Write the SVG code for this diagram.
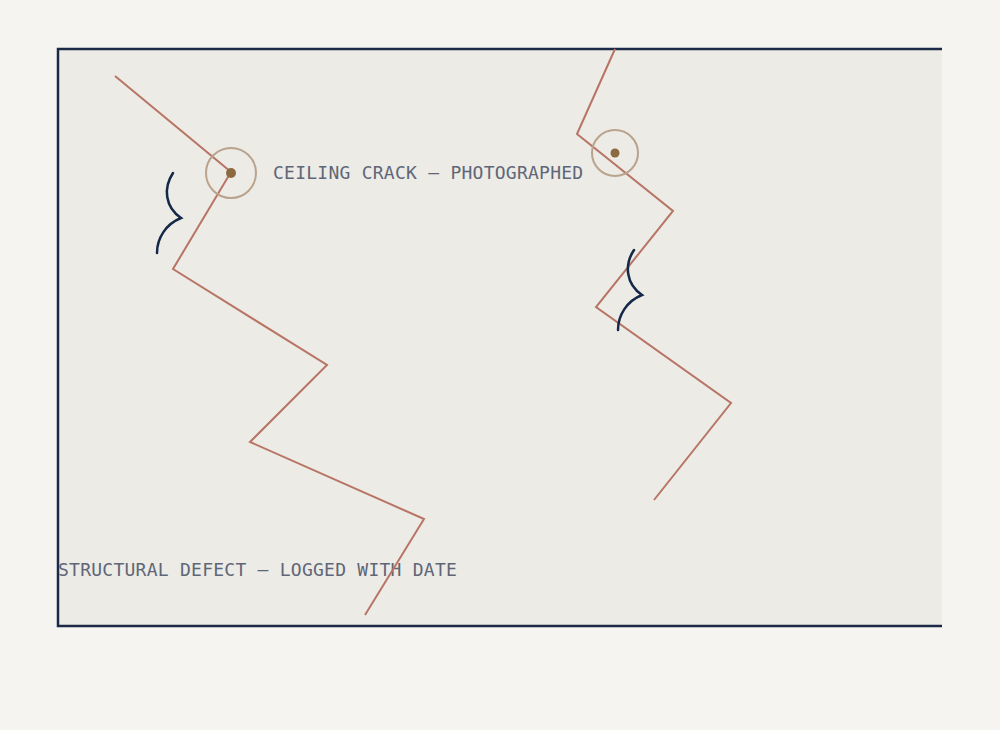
<svg xmlns="http://www.w3.org/2000/svg" width="1000" height="730" viewBox="0 0 1000 730">
<style>
.crack{fill:none;stroke:#b87464;stroke-width:2;stroke-linejoin:miter}
.frame{stroke:#1d2a47;stroke-width:2.5;fill:none}
.sq{fill:none;stroke:#142848;stroke-width:2.5;stroke-linecap:round}
.ring{fill:none;stroke:#b9a38c;stroke-width:2}
.dot{fill:#8c6a3f}
.lbl{font-family:"DejaVu Sans Mono","Liberation Mono",monospace;font-size:18px;letter-spacing:0.25px;fill:#5f6677}
</style>
<rect width="1000" height="730" fill="#f5f4f0"/>
<g id="panel">
<rect x="58" y="49" width="884" height="577" fill="#ecebe6"/>
<path class="frame" d="M942,49 H58 V626 H942"/>
</g>
<g id="labels">
<text class="lbl" x="273" y="179">CEILING CRACK — PHOTOGRAPHED</text>
<text class="lbl" x="58" y="576">STRUCTURAL DEFECT — LOGGED WITH DATE</text>
</g>
<g id="connectors">
<polyline class="crack" points="115,76 231,172 173,269 327,365 250,442 424,519 365,615"/>
<polyline class="crack" points="615,49 577,134 673,211 596,307 731,403 654,500"/>
</g>
<g id="marker1">
<circle class="ring" cx="231" cy="173" r="25"/>
<circle class="dot" cx="231" cy="173" r="5"/>
</g>
<g id="marker2">
<circle class="ring" cx="615" cy="153" r="23"/>
<circle class="dot" cx="615" cy="153" r="4.5"/>
</g>
<g id="squiggle1">
<path class="sq" d="M173,173 C163,188 165,207 181,218 C166,224 157,238 157,253"/>
</g>
<g id="squiggle2">
<path class="sq" d="M634,250 C624,265 626,284 642,295 C627,301 618,315 618,330"/>
</g>
</svg>
